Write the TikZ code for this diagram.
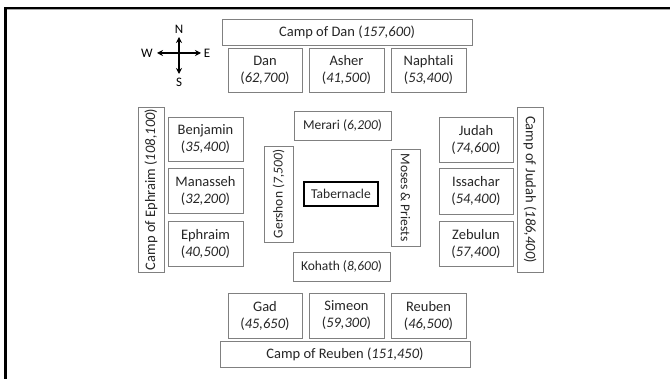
\documentclass[tikz,border=0pt]{standalone}
\usepackage{fontspec}
\setmainfont{Carlito}
\usetikzlibrary{arrows.meta}
\begin{document}
\begin{tikzpicture}[x=1pt,y=-1pt,
  box/.style={draw=black!50, line width=0.8pt, inner sep=0pt, align=center,
    font=\fontsize{14.5}{17}\selectfont, text=black!85},
  tribe/.style={box, minimum width=74pt, minimum height=44pt},
  levite/.style={box, font=\fontsize{13.5}{16}\selectfont},
  compass/.style={line width=2pt, -{Stealth[length=6pt,width=6pt]}},
  dir/.style={font=\fontsize{13}{15}\selectfont, inner sep=0pt}]
\useasboundingbox (0,0) rectangle (670,379);
\fill[white] (0,0) rectangle (670,379);
% frame
\draw[black!35, line width=1pt] (7,10) -- (672,10);
\draw[line width=2.6pt] (5.3,382) -- (5.3,8) -- (672,8);
% compass
\coordinate (cc) at (179,53);
\coordinate (cn) at (179,37);
\coordinate (cs) at (179,74);
\coordinate (cw) at (157,53);
\coordinate (ce) at (201,53);
\draw[compass] (cc) -- (cn);
\draw[compass] (cc) -- (cs);
\draw[compass] (cc) -- (cw);
\draw[compass] (cc) -- (ce);
\node[dir] (nN) at (179,29) {N};
\node[dir] (nS) at (179,82) {S};
\node[dir] (nW) at (147,53) {W};
\node[dir] (nE) at (207,53) {E};
% north
\node[box, minimum width=250pt, minimum height=26pt] (campdan) at (347,32) {Camp of Dan (\textit{157,600})};
\node[tribe] (dan) at (265,70) {Dan\\(\textit{62,700})};
\node[tribe, minimum width=75pt] (asher) at (346.5,70) {Asher\\(\textit{41,500})};
\node[tribe, minimum width=75pt] (naphtali) at (428.5,70) {Naphtali\\(\textit{53,400})};
% west
\node[box, rotate=90, minimum width=165pt, minimum height=26pt] (campeph) at (151,189.5) {Camp of Ephraim (\textit{108,100})};
\node[tribe, minimum width=75pt] (benjamin) at (205.5,139) {Benjamin\\(\textit{35,400})};
\node[tribe, minimum width=75pt, minimum height=45pt] (manasseh) at (205.5,190.5) {Manasseh\\(\textit{32,200})};
\node[tribe, minimum width=75pt, minimum height=45pt] (ephraim) at (205.5,243.5) {Ephraim\\(\textit{40,500})};
% levites
\node[levite, minimum width=97pt, minimum height=29pt] (merari) at (342.5,125.5) {Merari (\textit{6,200})};
\node[levite, rotate=90, minimum width=96pt, minimum height=29pt] (gershon) at (278.5,194) {Gershon (\textit{7,500})};
\node[levite, rotate=-90, minimum width=97pt, minimum height=29pt] (moses) at (405.5,197.5) {Moses \& Priests};
\node[levite, minimum width=97pt, minimum height=29pt] (kohath) at (341.5,266.5) {Kohath (\textit{8,600})};
\node[levite, draw=black, line width=1.4pt, minimum width=74pt, minimum height=24pt] (tabernacle) at (341,194) {Tabernacle};
% east
\node[tribe, minimum height=45pt] (judah) at (476,139.5) {Judah\\(\textit{74,600})};
\node[tribe, minimum height=46pt] (issachar) at (476,191) {Issachar\\(\textit{54,400})};
\node[tribe, minimum height=45pt] (zebulun) at (476,243.5) {Zebulun\\(\textit{57,400})};
\node[box, rotate=-90, minimum width=165pt, minimum height=26pt] (campjud) at (530,189.5) {Camp of Judah (\textit{186,400})};
% south
\node[tribe, minimum height=45pt] (gad) at (265,315.5) {Gad\\(\textit{45,650})};
\node[tribe, minimum width=75pt, minimum height=45pt] (simeon) at (346.5,315.5) {Simeon\\(\textit{59,300})};
\node[tribe, minimum width=75pt, minimum height=45pt] (reuben) at (428.5,315.5) {Reuben\\(\textit{46,500})};
\node[box, minimum width=250pt, minimum height=26pt] (campreu) at (345,354) {Camp of Reuben (\textit{151,450})};
\end{tikzpicture}
\end{document}
